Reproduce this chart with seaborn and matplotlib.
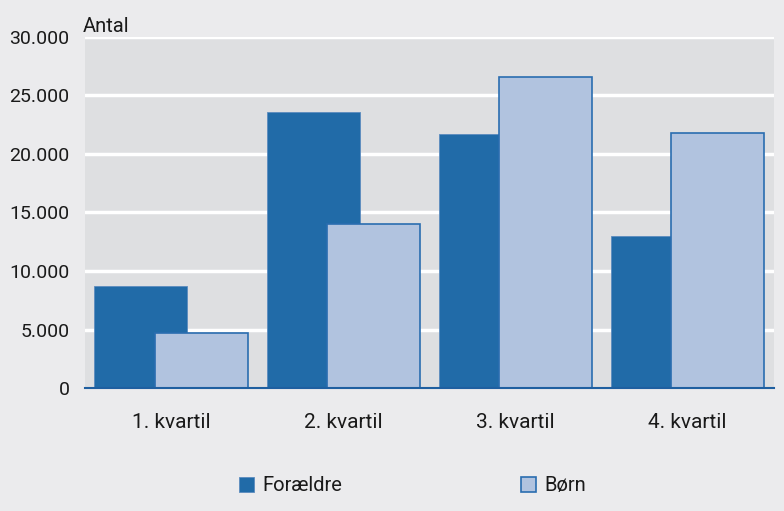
import numpy as np
import pandas as pd
import matplotlib
matplotlib.use("Agg")
import matplotlib.pyplot as plt
import seaborn as sns
from matplotlib.patches import Patch

categories = ["1. kvartil", "2. kvartil", "3. kvartil", "4. kvartil"]
foraeldre = [8700, 23600, 21700, 13000]
boern = [4700, 14000, 26600, 21800]
yticks = [0, 5000, 10000, 15000, 20000, 25000, 30000]
ytick_labels = ["0", "5.000", "10.000", "15.000", "20.000", "25.000", "30.000"]

sns.set_theme(style="white")
plt.rcParams["font.family"] = ["Roboto", "DejaVu Sans"]

BG = "#ebebed"
PLOT_BG = "#dedfe1"
DARK = "#216ba8"
LIGHT = "#b1c3df"
EDGE = "#2a6db0"

fig = plt.figure(figsize=(7.84, 5.11), dpi=100, facecolor=BG)
ax = fig.add_axes([0.1084, 0.2407, 0.8786, 0.6869])
ax.set_facecolor(PLOT_BG)

base = np.arange(len(categories))
df_f = pd.DataFrame({"pos": base - 0.175, "val": foraeldre})
df_b = pd.DataFrame({"pos": base + 0.175, "val": boern})

sns.barplot(data=df_f, x="pos", y="val", native_scale=True, width=0.54,
            color=DARK, saturation=1, edgecolor="#5c8cbf", linewidth=0.6, ax=ax, zorder=3)
sns.barplot(data=df_b, x="pos", y="val", native_scale=True, width=0.54,
            color=LIGHT, saturation=1, edgecolor=EDGE, linewidth=1.2, ax=ax, zorder=4)

ax.set_xlim(-0.5, 3.5)
ax.set_ylim(0, 30000)
ax.set_yticks(yticks)
ax.set_yticklabels(ytick_labels, fontsize=14, color="#1a1a1a")
ax.set_xticks(base)
ax.set_xticklabels(categories, fontsize=15, color="#1a1a1a")
ax.tick_params(axis="both", length=0)
ax.tick_params(axis="x", pad=18)
ax.tick_params(axis="y", pad=11)
ax.set_xlabel("")
ax.set_ylabel("")
for y in yticks[1:]:
    ax.axhline(y, color="white", lw=2.5, zorder=1)
for s in ["top", "right", "left"]:
    ax.spines[s].set_visible(False)
ax.spines["bottom"].set_color("#1f5fa0")
ax.spines["bottom"].set_linewidth(1.5)
ax.spines["bottom"].set_zorder(5)

fig.text(0.106, 0.937, "Antal", fontsize=14.5, color="#1a1a1a", ha="left", va="baseline")

handles = [Patch(facecolor=DARK, edgecolor="#5c8cbf", linewidth=0.6),
           Patch(facecolor=LIGHT, edgecolor=EDGE, linewidth=1.2)]
fig.legend(handles, ["Forældre", "Børn"], loc="center", bbox_to_anchor=(0.526, 0.049),
           ncol=2, frameon=False, fontsize=14.5, handlelength=0.75, handleheight=0.75,
           handletextpad=0.4, columnspacing=8.9, labelcolor="#1a1a1a")

fig.savefig("out.png", dpi=100, facecolor=BG)
